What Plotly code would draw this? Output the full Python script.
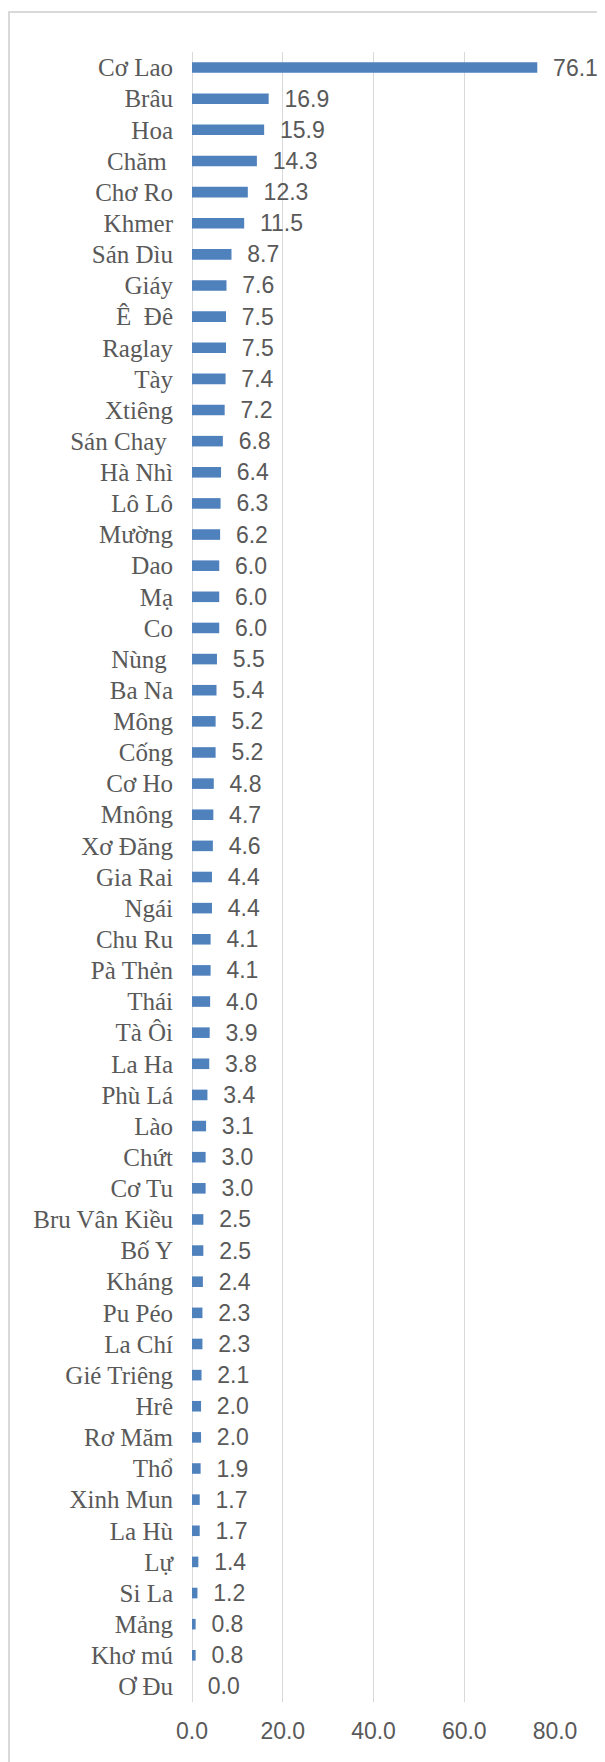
import plotly.graph_objects as go

categories = [
    "Cơ Lao", "Brâu", "Hoa", "Chăm\u00a0", "Chơ Ro", "Khmer", "Sán Dìu", "Giáy",
    "Ê\u00a0\u00a0Đê", "Raglay", "Tày", "Xtiêng", "Sán Chay\u00a0", "Hà Nhì", "Lô Lô",
    "Mường", "Dao", "Mạ", "Co", "Nùng\u00a0", "Ba Na", "Mông", "Cống", "Cơ Ho",
    "Mnông", "Xơ Đăng", "Gia Rai", "Ngái", "Chu Ru", "Pà Thẻn", "Thái", "Tà Ôi",
    "La Ha", "Phù Lá", "Lào", "Chứt", "Cơ Tu", "Bru Vân Kiều", "Bố Y", "Kháng",
    "Pu Péo", "La Chí", "Gié Triêng", "Hrê", "Rơ Măm", "Thổ", "Xinh Mun", "La Hù",
    "Lự", "Si La", "Mảng", "Khơ mú", "Ơ Đu",
]
values = [
    76.1, 16.9, 15.9, 14.3, 12.3, 11.5, 8.7, 7.6,
    7.5, 7.5, 7.4, 7.2, 6.8, 6.4, 6.3,
    6.2, 6.0, 6.0, 6.0, 5.5, 5.4, 5.2, 5.2, 4.8,
    4.7, 4.6, 4.4, 4.4, 4.1, 4.1, 4.0, 3.9,
    3.8, 3.4, 3.1, 3.0, 3.0, 2.5, 2.5, 2.4,
    2.3, 2.3, 2.1, 2.0, 2.0, 1.9, 1.7, 1.7,
    1.4, 1.2, 0.8, 0.8, 0.0,
]
x_ticks = [0, 20, 40, 60, 80]

# the page body adds an 8px margin, so the figure is sized to fill the window from there
W, H = 597, 1754
ML, MR, MT, MB = 184, 50, 44, 60
TEXT = "#595959"
GRID = "#d9d9d9"

fig = go.Figure(go.Bar(
    x=values, y=categories, orientation="h",
    marker=dict(color="#4F81BD", line=dict(width=0)),
    texttemplate="\u00a0\u00a0%{x:.1f}",
    textposition="outside",
    textfont=dict(family="Liberation Sans", size=23, color=TEXT),
    constraintext="none",
    cliponaxis=False,
    hoverinfo="skip",
))

pw = W - ML - MR
ph = H - MT - MB
# chart-area frame (left and top edges visible, right/bottom run off-page)
fx0 = (1 - ML) / pw
fx1 = (W + 20 - ML) / pw
fy1 = (H - MB - 4) / ph
fy0 = (H - MB - (H + 20)) / ph

fig.update_layout(
    width=W, height=H,
    margin=dict(l=ML, r=MR, t=MT, b=MB, autoexpand=False),
    paper_bgcolor="white", plot_bgcolor="white",
    bargap=0.66,
    showlegend=False,
    shapes=[dict(type="rect", xref="paper", yref="paper",
                 x0=fx0, x1=fx1, y0=fy0, y1=fy1,
                 line=dict(color=GRID, width=2), fillcolor="rgba(0,0,0,0)", layer="below")],
)
fig.update_xaxes(
    range=[0, 80], tickvals=x_ticks, tickformat=".1f",
    showgrid=True, gridcolor=GRID, gridwidth=1,
    zeroline=True, zerolinecolor=GRID, zerolinewidth=1,
    showline=False, ticks="", ticklabelstandoff=13,
    tickfont=dict(family="Liberation Sans", size=23, color=TEXT),
)
fig.update_yaxes(
    autorange="reversed", type="category",
    showgrid=False, showline=False, ticks="", ticklabelstandoff=18,
    tickfont=dict(family="Liberation Serif", size=25, color=TEXT),
)

fig.write_html("out.html")
